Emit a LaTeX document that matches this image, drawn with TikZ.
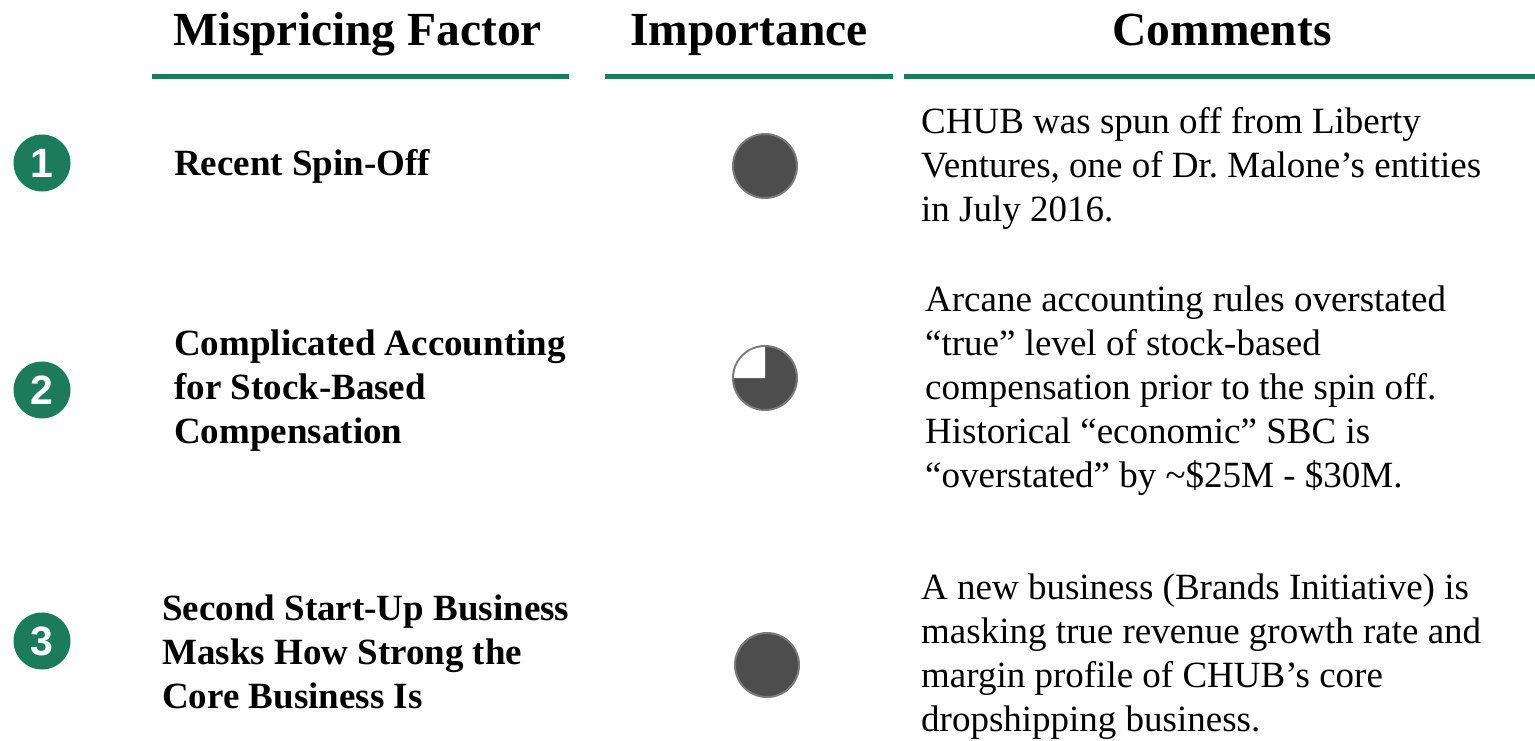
\documentclass[tikz,border=0pt]{standalone}
\usepackage{fontspec}
\setmainfont{Liberation Serif}
\newfontfamily\numfont{Liberation Sans}
\definecolor{hdgreen}{HTML}{1B7B5B}
\definecolor{dotgray}{HTML}{4D4D4D}
\definecolor{rimgray}{HTML}{7A7A7A}
\begin{document}
\begin{tikzpicture}[x=1pt,y=-1pt,
  header/.style={anchor=base,inner sep=0pt,font=\fontsize{47.5}{52}\selectfont\bfseries},
  rule/.style={line width=5pt,draw=hdgreen},
  numdot/.style={circle,fill=hdgreen,minimum size=57pt,inner sep=0pt,text=white,font=\numfont\fontsize{41}{41}\selectfont\bfseries},
  factor/.style={anchor=west,inner sep=0pt,align=left,font=\fontsize{37}{44}\selectfont\bfseries},
  comment/.style={anchor=west,inner sep=0pt,align=left,font=\fontsize{37}{44}\selectfont},
  impdot/.style={circle,fill=dotgray,draw=rimgray,line width=2pt,minimum size=64pt,inner sep=0pt}]
\fill[white] (0,0) rectangle (1535,740);
\useasboundingbox (0,0) rectangle (1535,740);
% headers
\node[header] (h1) at (358,45) {Mispricing Factor};
\node[header] (h2) at (749,45) {Importance};
\node[header] (h3) at (1222,45) {Comments};
\draw[rule] (152,76.5) -- (569,76.5);
\draw[rule] (605,76.5) -- (893,76.5);
\draw[rule] (904,76.5) -- (1535,76.5);
% numbers
\node[numdot] (n1) at (42,163) {1};
\node[numdot] (n2) at (42,390) {2};
\node[numdot] (n3) at (42,641) {3};
% factors
\node[factor] (f1) at (174,166) {Recent Spin-Off};
\node[factor] (f2) at (174,391) {Complicated Accounting\\for Stock-Based\\Compensation};
\node[factor] (f3) at (162,652) {Second Start-Up Business\\Masks How Strong the\\Core Business Is};
% importance
\node[impdot] (i1) at (765,166) {};
\node[impdot] (i2) at (765,378) {};
\fill[white] (i2.center) -- ++(-31,0) arc[start angle=180,end angle=270,radius=31] -- cycle;
\node[impdot] (i3) at (767,665) {};
% comments
\node[comment] (c1) at (921,168) {CHUB was spun off from Liberty\\Ventures, one of Dr.\ Malone’s entities\\in July 2016.};
\node[comment] (c2) at (925,390.5) {Arcane accounting rules overstated\\“true” level of stock-based\\compensation prior to the spin off.\\Historical “economic” SBC is\\“overstated” by \textasciitilde\$25M - \$30M.};
\node[comment] (c3) at (921,657) {A new business (Brands Initiative) is\\masking true revenue growth rate and\\margin profile of CHUB’s core\\dropshipping business.};
\end{tikzpicture}
\end{document}
